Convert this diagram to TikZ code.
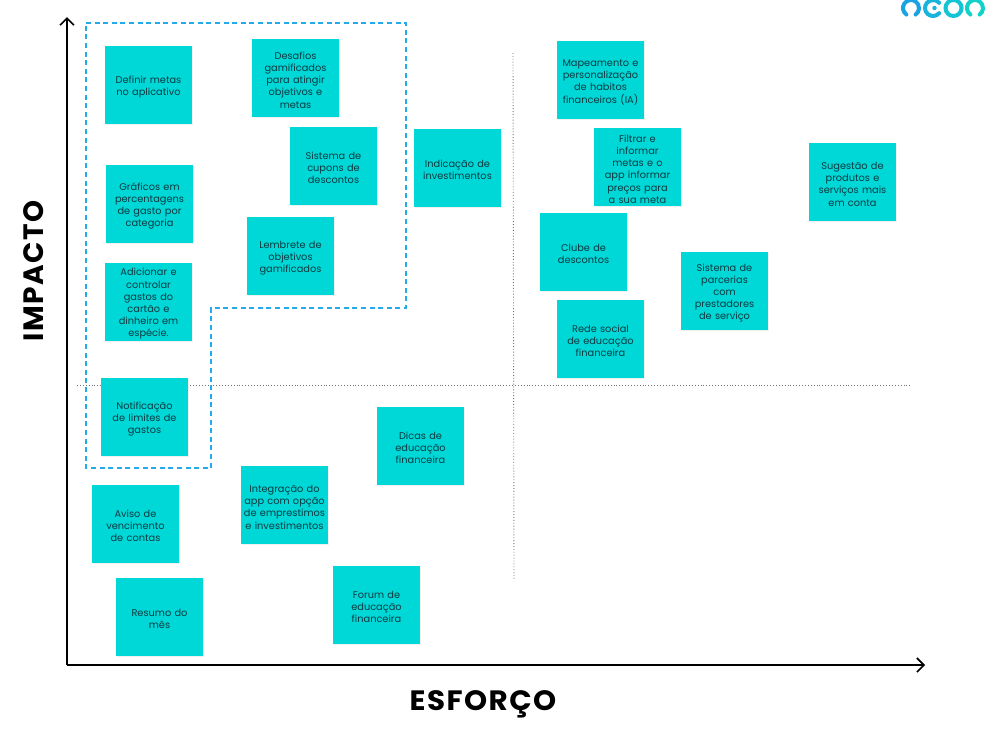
\documentclass[tikz,border=0pt]{standalone}
\usepackage{fontspec}
\setmainfont{Poppins}
\usetikzlibrary{shadows,arrows.meta}
\definecolor{postit}{HTML}{00D8D8}
\definecolor{posttext}{HTML}{0E3A40}
\definecolor{dashblue}{HTML}{22AAEA}
\definecolor{logoa}{HTML}{1AA3E2}
\definecolor{logob}{HTML}{18B4DC}
\definecolor{logoc}{HTML}{14C4D4}
\definecolor{logod}{HTML}{10D2C8}
\tikzset{
 note/.style={fill=postit,text=posttext,text width=87pt,minimum height=78pt,inner sep=0pt,align=center,font=\fontsize{9.8}{12.2}\selectfont,execute at begin node={\leavevmode\rule{0pt}{11.5pt}},drop shadow={opacity=0.12,shadow xshift=0.6pt,shadow yshift=-0.8pt}},
 axis/.style={line width=2pt,-{Straight Barb[length=7pt,width=14pt,line width=1.6pt]}},
 guide/.style={gray!90!black,line width=0.9pt,dotted},
 axislabel/.style={font=\fontsize{28}{30}\selectfont\bfseries\addfontfeatures{LetterSpace=5},text=black,anchor=base,inner sep=0pt},
 logo/.style={line width=4pt,line cap=round}
}
\begin{document}
\begin{tikzpicture}[x=1pt,y=-1pt]
 \useasboundingbox (0,0) rectangle (1008,737);
 % guides
 \coordinate (hl) at (77,385.5);
 \coordinate (hr) at (911,385.5);
 \coordinate (vt) at (513,53);
 \coordinate (vb) at (514,579);
 \draw[guide] (hl)--(hr);
 \draw[guide] (vt)--(vb);
 % axes
 \coordinate (origin) at (67,665);
 \coordinate (top) at (67,17);
 \coordinate (right) at (925,665);
 \draw[axis] (origin)--(top);
 \draw[axis] (origin)--(right);
 \node[axislabel,rotate=90] (impacto) at (43,271) {IMPACTO};
 \node[axislabel,xscale=1.05] (esforco) at (483,710) {ESFORÇO};
 % first group
 \draw[dashblue,line width=2.5pt,dash pattern=on 5pt off 3.6pt]
  (86,23)--(406,23)--(406,308)--(211,308)--(211,468)--(86,468)--cycle;
 \node[note] (metas) at (148.5,85) {Definir metas\\no aplicativo};
 \node[note] (desafios) at (295.5,78) {Desafios\\gamificados\\para atingir\\objetivos e\\metas};
 \node[note] (cupons) at (333.5,166) {Sistema de\\cupons de\\descontos};
 \node[note] (indicacao) at (457.5,168) {Indicação de\\investimentos};
 \node[note] (graficos) at (149.5,204) {Gráficos em\\percentagens\\de gasto por\\categoria};
 \node[note] (lembrete) at (290.5,256) {Lembrete de\\objetivos\\gamificados};
 \node[note] (gastos) at (148.5,302) {Adicionar e\\controlar\\gastos do\\cartão e\\dinheiro em\\espécie.};
 \node[note] (limites) at (144.5,417) {Notificação\\de limites de\\gastos};
 % low impact
 \node[note] (aviso) at (135.5,524) {Aviso de\\vencimento\\de contas};
 \node[note] (resumo) at (159.5,617) {Resumo do\\mês};
 \node[note] (integracao) at (284.5,505) {Integração do\\app com opção\\de emprestimos\\e investimentos};
 \node[note] (dicas) at (420.5,446) {Dicas de\\educação\\financeira};
 \node[note] (forum) at (376.5,605) {Forum de\\educação\\financeira};
 % high effort
 \node[note] (mapeamento) at (600.5,80) {Mapeamento e\\personalização\\de habitos\\financeiros (IA)};
 \node[note] (filtrar) at (637.5,167) {Filtrar e\\informar\\metas e o\\app informar\\preços para\\a sua meta};
 \node[note] (clube) at (583.5,252) {Clube de\\descontos};
 \node[note] (rede) at (600.5,339) {Rede social\\de educação\\financeira};
 \node[note] (parcerias) at (724.5,291) {Sistema de\\parcerias\\com\\prestadores\\de serviço};
 \node[note] (sugestao) at (852.5,182) {Sugestão de\\produtos e\\serviços mais\\em conta};
 % logo
 \draw[logo,logoa] (911,8) ++(125:8) arc (125:415:8);
 \draw[logo,logob] (933,8) ++(40:8) arc (40:320:8);
 \fill[logob] (934.5,8) circle (2.2pt);
 \draw[logo,logoc] (953.5,8) circle (8);
 \draw[logo,logod] (975,8) ++(125:8) arc (125:415:8);
\end{tikzpicture}
\end{document}
